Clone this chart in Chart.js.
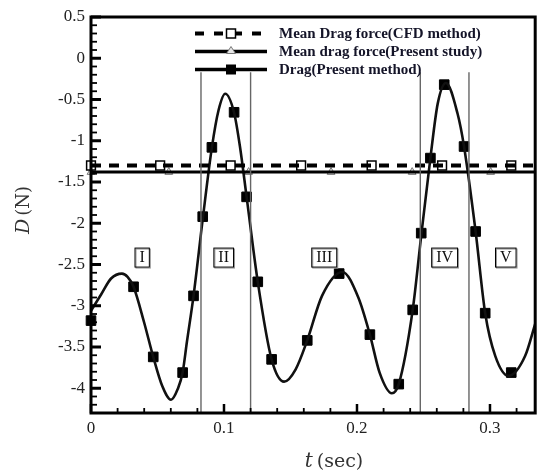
<!DOCTYPE html>
<html>
<head>
<meta charset="utf-8">
<script src="https://cdn.jsdelivr.net/npm/chart.js@4.4.1/dist/chart.umd.min.js"></script>
<style>
  body { margin: 0; background: #fff; }
</style>
</head>
<body>
<canvas id="dragChart" width="543" height="473"></canvas>
<script>
// values
const curveT = [0, 0.0077, 0.0151, 0.0233, 0.0275, 0.032, 0.0399, 0.0468, 0.0535, 0.0602, 0.0652, 0.0689,
  0.0721, 0.0771, 0.084, 0.0909, 0.0959, 0.1009, 0.1076, 0.112, 0.117, 0.1254, 0.1358, 0.1452, 0.1539,
  0.1626, 0.1737, 0.189, 0.201, 0.2097, 0.217, 0.2262, 0.2314, 0.2419, 0.2483, 0.2552, 0.2607, 0.2669,
  0.2756, 0.2805, 0.2892, 0.2964, 0.304, 0.314, 0.3264, 0.334];
const curveD = [-3.06, -2.86, -2.67, -2.61, -2.65, -2.77, -3.20, -3.62, -3.97, -4.14, -4.01, -3.81,
  -3.44, -2.88, -1.95, -1.08, -0.63, -0.43, -0.66, -1.07, -1.68, -2.71, -3.65, -3.92, -3.77,
  -3.42, -2.88, -2.59, -2.90, -3.35, -3.81, -4.06, -3.95, -3.05, -2.15, -1.21, -0.55, -0.30,
  -0.67, -1.07, -2.10, -3.09, -3.61, -3.85, -3.61, -3.22];

const markT = [0, 0.032, 0.0468, 0.0689, 0.0771, 0.084, 0.0909, 0.1076, 0.117, 0.1254, 0.1358, 0.1626,
  0.1866, 0.2097, 0.2314, 0.2419, 0.2483, 0.2552, 0.2656, 0.2805, 0.2892, 0.2964, 0.316];
const markD = [-3.18, -2.77, -3.62, -3.81, -2.88, -1.92, -1.08, -0.655, -1.68, -2.71, -3.65, -3.42,
  -2.61, -3.35, -3.95, -3.05, -2.12, -1.21, -0.32, -1.07, -2.10, -3.09, -3.81];

const cfdMean = -1.30;
const cfdMarkT = [0, 0.052, 0.105, 0.158, 0.211, 0.264, 0.316];
const presentMean = -1.38;
const presentMarkT = [0, 0.0585, 0.1185, 0.1805, 0.2415, 0.3005];

const dividerT = [0.0827, 0.1200, 0.2476, 0.2842];
const dividerTop = -0.17;

const regionNames = ['I', 'II', 'III', 'IV', 'V'];
const regionT = [0.0381, 0.0994, 0.175, 0.2655, 0.3115];
const regionD = -2.41;

const xTicks = [0, 0.1, 0.2, 0.3];
const yTicks = [0.5, 0, -0.5, -1, -1.5, -2, -2.5, -3, -3.5, -4];
const legendLabels = ['Mean Drag force(CFD method)', 'Mean drag force(Present study)', 'Drag(Present method)'];

const xMin = 0, xMax = 0.334, yMin = -4.3, yMax = 0.5;

const serif = '"Liberation Serif", "Times New Roman", serif';
const pts = (xs, ys) => xs.map((x, i) => ({ x: x, y: Array.isArray(ys) ? ys[i] : ys }));

const datasets = [];
dividerT.forEach(t => {
  datasets.push({
    data: [{ x: t, y: yMin }, { x: t, y: dividerTop }],
    borderColor: '#666', borderWidth: 1.4, pointRadius: 0
  });
});
datasets.push({
  data: [{ x: xMin, y: cfdMean }, { x: xMax, y: cfdMean }],
  borderColor: '#000', borderWidth: 4, borderDash: [10, 8], pointRadius: 0
});
datasets.push({
  data: [{ x: xMin, y: presentMean }, { x: xMax, y: presentMean }],
  borderColor: '#000', borderWidth: 3, pointRadius: 0
});
datasets.push({
  data: pts(curveT, curveD),
  borderColor: '#111', borderWidth: 2.6, pointRadius: 0,
  cubicInterpolationMode: 'monotone'
});
datasets.push({
  data: pts(cfdMarkT, cfdMean), showLine: false, clip: false,
  pointStyle: 'rect', pointRadius: 6.2, backgroundColor: '#fff', borderColor: '#000', borderWidth: 1.5
});
datasets.push({
  data: pts(presentMarkT, presentMean), showLine: false, clip: false,
  pointStyle: 'triangle', pointRadius: 4.5, backgroundColor: '#e6e6e6', borderColor: '#777', borderWidth: 1
});
datasets.push({
  data: pts(markT, markD), showLine: false, clip: false,
  pointStyle: 'rect', pointRadius: 6.8, backgroundColor: '#000', borderColor: '#000', borderWidth: 1
});

function fmt(v) { return String(+v.toFixed(2)); }

const decor = {
  id: 'decor',
  afterDatasetsDraw(chart) {
    const { ctx, scales: { x, y } } = chart;
    ctx.save();
    // boxed region labels
    ctx.font = '16px ' + serif;
    ctx.textAlign = 'center';
    ctx.textBaseline = 'middle';
    regionNames.forEach((name, i) => {
      const cx = x.getPixelForValue(regionT[i]);
      const cy = y.getPixelForValue(regionD);
      const w = ctx.measureText(name).width + 9;
      const h = 19;
      ctx.fillStyle = '#fff';
      ctx.fillRect(cx - w / 2, cy - h / 2, w, h);
      ctx.strokeStyle = '#999';
      ctx.lineWidth = 1;
      ctx.strokeRect(cx - w / 2 + 1.5, cy - h / 2 + 1.5, w, h);
      ctx.strokeStyle = '#000';
      ctx.strokeRect(cx - w / 2 + 0.5, cy - h / 2 + 0.5, w, h);
      ctx.fillStyle = '#111';
      ctx.fillText(name, cx + 0.5, cy + 1);
    });
    ctx.restore();
  },
  afterDraw(chart) {
    const { ctx, chartArea: a, scales: { x, y } } = chart;
    ctx.save();
    ctx.strokeStyle = '#000';
    // inward ticks
    for (let i = 0; i * 0.02 <= xMax + 1e-9; i++) {
      const px = x.getPixelForValue(i * 0.02);
      const major = i % 5 === 0;
      ctx.lineWidth = major ? 2.5 : 1.8;
      ctx.beginPath();
      ctx.moveTo(px, a.bottom);
      ctx.lineTo(px, a.bottom - (major ? 9 : 5));
      ctx.stroke();
    }
    for (let i = 0; yMax - i * 0.1 >= yMin - 1e-9; i++) {
      const py = y.getPixelForValue(yMax - i * 0.1);
      const major = i % 5 === 0;
      ctx.lineWidth = major ? 3 : 1.8;
      ctx.beginPath();
      ctx.moveTo(a.left, py);
      ctx.lineTo(a.left + (major ? 10 : 6), py);
      ctx.stroke();
    }
    // frame
    ctx.lineWidth = 3;
    ctx.strokeRect(a.left, a.top, a.right - a.left, a.bottom - a.top);

    // axis titles
    ctx.fillStyle = '#333';
    ctx.textBaseline = 'middle';
    ctx.font = 'italic 20px "DejaVu Serif", serif';
    const tW = ctx.measureText('t').width;
    ctx.font = '19px "DejaVu Serif", serif';
    const secW = ctx.measureText('(sec)').width;
    let sx = 334 - (tW + 4 + secW) / 2;
    ctx.textAlign = 'left';
    ctx.font = 'italic 20px "DejaVu Serif", serif';
    ctx.fillText('t', sx, 462);
    ctx.font = '19px "DejaVu Serif", serif';
    ctx.fillText('(sec)', sx + tW + 4, 462);

    ctx.save();
    ctx.translate(24, 210);
    ctx.rotate(-Math.PI / 2);
    ctx.font = 'italic 19px "DejaVu Serif", serif';
    const dW = ctx.measureText('D').width;
    ctx.font = '18px "DejaVu Serif", serif';
    const nW = ctx.measureText('(N)').width;
    sx = -(dW + 3 + nW) / 2;
    ctx.font = 'italic 19px "DejaVu Serif", serif';
    ctx.fillText('D', sx, 0);
    ctx.font = '18px "DejaVu Serif", serif';
    ctx.fillText('(N)', sx + dW + 3, 0);
    ctx.restore();

    // legend
    const rows = [33.5, 51.5, 69.5];
    const x0 = 195, x1 = 267, mx = 231;
    ctx.strokeStyle = '#000';
    ctx.lineWidth = 4;
    ctx.setLineDash([9, 10]);
    ctx.beginPath(); ctx.moveTo(x0, rows[0]); ctx.lineTo(x1, rows[0]); ctx.stroke();
    ctx.setLineDash([]);
    ctx.lineWidth = 3.5;
    [1, 2].forEach(r => { ctx.beginPath(); ctx.moveTo(x0, rows[r]); ctx.lineTo(x1, rows[r]); ctx.stroke(); });
    ctx.fillStyle = '#fff';
    ctx.lineWidth = 1.5;
    ctx.fillRect(mx - 4.5, rows[0] - 4.5, 9, 9);
    ctx.strokeRect(mx - 4.5, rows[0] - 4.5, 9, 9);
    ctx.fillStyle = '#e6e6e6';
    ctx.strokeStyle = '#777';
    ctx.lineWidth = 1;
    ctx.beginPath();
    ctx.moveTo(mx, rows[1] - 5); ctx.lineTo(mx + 4.5, rows[1] + 2); ctx.lineTo(mx - 4.5, rows[1] + 2); ctx.closePath();
    ctx.fill(); ctx.stroke();
    ctx.fillStyle = '#000';
    ctx.fillRect(mx - 5, rows[2] - 5, 10, 10);

    ctx.font = 'bold 15px ' + serif;
    ctx.fillStyle = '#141428';
    ctx.textAlign = 'left';
    legendLabels.forEach((txt, i) => ctx.fillText(txt, 279, rows[i] + 1));
    ctx.restore();
  }
};

new Chart(document.getElementById('dragChart'), {
  type: 'line',
  data: { datasets: datasets },
  options: {
    responsive: false,
    animation: false,
    layout: { padding: { left: 0, top: 17, right: 3, bottom: 0 } },
    plugins: { legend: { display: false }, tooltip: { enabled: false } },
    scales: {
      x: {
        type: 'linear', min: xMin, max: xMax,
        grid: { display: false, drawTicks: false },
        border: { display: false },
        afterBuildTicks: s => { s.ticks = xTicks.map(v => ({ value: v })); },
        afterFit: s => { s.height = 60; },
        ticks: { padding: 5, color: '#222', font: { family: serif, size: 17 }, callback: v => fmt(v) }
      },
      y: {
        type: 'linear', min: yMin, max: yMax,
        grid: { display: false, drawTicks: false },
        border: { display: false },
        afterBuildTicks: s => { s.ticks = yTicks.map(v => ({ value: v })); },
        afterFit: s => { s.width = 91; },
        ticks: { padding: 6, color: '#222', font: { family: serif, size: 17 }, callback: v => fmt(v) }
      }
    }
  },
  plugins: [decor]
});
</script>
</body>
</html>
